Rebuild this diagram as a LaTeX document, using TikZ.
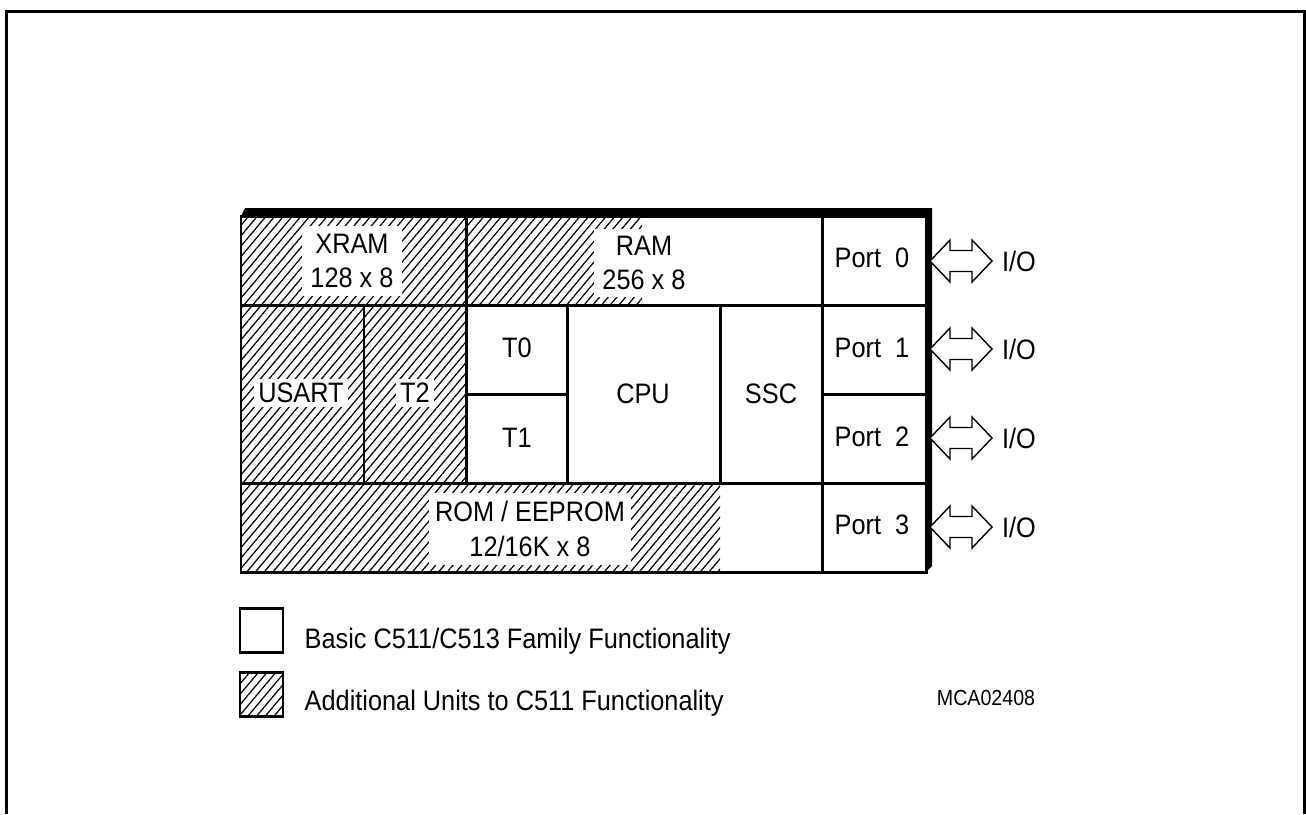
\documentclass[tikz,border=0pt]{standalone}
\usepackage{fontspec}
\setmainfont[FakeStretch=0.9]{Liberation Sans}
\usetikzlibrary{patterns.meta}

\begin{document}
\begin{tikzpicture}[x=0.01cm, y=-0.01cm,
    every node/.style={font=\fontsize{8}{9.8}\selectfont, inner sep=0.04cm},
    cell/.style={line width=0.85pt},
    hatch/.style={pattern={Lines[angle=50, distance=1.9pt, line width=0.35pt]}},
    lbl/.style={fill=white, align=center},
    ioarrow/.style={line width=0.4pt, fill=white}]

    % Page size and outer frame (open at the bottom)
    \useasboundingbox (0,0) rectangle (1306,814);
    \draw[line width=0.85pt] (6.5,814) -- (6.5,11.5) -- (1304.5,11.5) -- (1304.5,814);

    % Hatched areas (additional units)
    \path[hatch] (241,216) rectangle (466,305);   % XRAM
    \path[hatch] (466,216) rectangle (642,305);   % part of RAM
    \path[hatch] (241,305) rectangle (466,483);   % USART, T2
    \path[hatch] (241,483) rectangle (720,572);   % part of ROM

    % Block outline and cell borders
    \draw[cell] (241,216) rectangle (926,572);
    \draw[cell] (241,305) -- (926,305);
    \draw[cell] (241,483) -- (926,483);
    \draw[cell] (466,394) -- (567,394);
    \draw[cell] (822,394) -- (926,394);
    \draw[cell] (466,216) -- (466,483);
    \draw[cell] (364,305) -- (364,483);
    \draw[cell] (567,305) -- (567,483);
    \draw[cell] (720,305) -- (720,483);
    \draw[cell] (822,216) -- (822,572);

    % Shadow on top and right side
    \fill (241,216) -- (245,208) -- (932,208) -- (932,566) -- (925,573) -- (925,216) -- cycle;

    % Unit labels
    \node[lbl, inner xsep=0.08cm, inner ysep=0.08cm] (xram) at (352,261) {XRAM\\128 x 8};
    \node[lbl, inner xsep=0.08cm, inner ysep=0.07cm] (ram) at (644,263) {RAM\\256 x 8};
    \node[lbl] (usart) at (301,393) {USART};
    \node[lbl] (t2) at (415,393) {T2};
    \node (t0) at (517,348) {T0};
    \node (t1) at (517,438) {T1};
    \node (cpu) at (643,394) {CPU};
    \node (ssc) at (771,394) {SSC};
    \node[lbl, inner xsep=0.06cm, inner ysep=0.08cm] (rom) at (530,529) {ROM / EEPROM\\12/16K x 8};

    % Ports with I/O arrows
    \foreach \i/\yb/\ya in {0/267/261, 1/357/349, 2/446/438, 3/534/527} {
        \node[anchor=base west] (port\i) at (830,\yb) {Port \ \i};
        \coordinate (edge\i) at (930,\ya);
        \node (io\i) at (1019,\ya) {I/O};
        \draw[ioarrow] (edge\i) -- ++(20,-21) -- ++(0,10.5) -- ++(22,0) -- ++(0,-10.5)
            -- ++(20,21) -- ++(-20,21) -- ++(0,-10.5) -- ++(-22,0) -- ++(0,10.5) -- cycle;
    }

    % Legend
    \draw[cell] (240,608) rectangle (283,652);
    \draw[cell, hatch] (240,672) rectangle (283,716);
    \node[anchor=base west] (basic) at (300,648) {Basic C511/C513 Family Functionality};
    \node[anchor=base west] (added) at (300,710) {Additional Units to C511 Functionality};
    \node[font=\fontsize{6.2}{7.5}\selectfont] (code) at (986,698) {MCA02408};
\end{tikzpicture}
\end{document}
